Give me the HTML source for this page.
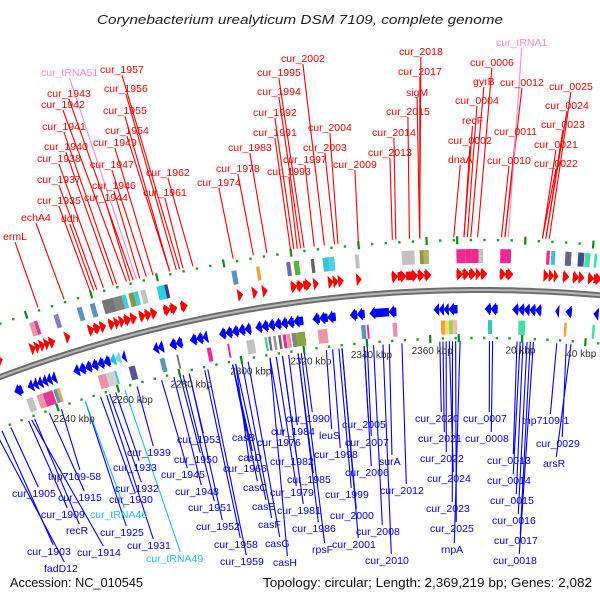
<!DOCTYPE html>
<html><head><meta charset="utf-8"><style>
html,body{margin:0;padding:0;background:#fff;}
svg{display:block;}
text{font-family:"Liberation Sans","DejaVu Sans",sans-serif;}
</style></head><body>
<svg id="map" width="600" height="600" viewBox="0 0 600 600" xmlns="http://www.w3.org/2000/svg">
<rect width="600" height="600" fill="#fff"/>
<text x="300" y="24" text-anchor="middle" font-style="italic" font-size="13" textLength="406" lengthAdjust="spacingAndGlyphs" fill="#222">Corynebacterium urealyticum DSM 7109, complete genome</text>
<text x="10" y="587" font-size="12.5" fill="#111" textLength="133" lengthAdjust="spacingAndGlyphs">Accession: NC_010545</text>
<text x="263" y="587" font-size="12.5" fill="#111" textLength="329" lengthAdjust="spacingAndGlyphs">Topology: circular; Length: 2,369,219 bp; Genes: 2,082</text>
<g id="layer"></g>
</svg>
<script>
// ---- data (genome coordinates in kbp) ----
var genomeLen = 2369;
var fwdGenes = [[2227,2229],[2238,2239.5],[2239.5,2241],[2241,2242.5],[2242.5,2244],[2244,2245.7],[2249,2250.5],[2256.3,2258],[2258,2260],[2260,2261.7],[2262.7,2264.5],[2264.5,2266],[2266,2267.5],[2267.5,2269.5],[2269.5,2271.3],[2272.2,2274],[2274,2275.8],[2275.8,2277.6],[2279.7,2281.7],[2281.7,2283.8],[2285,2287],[2302.5,2304],[2307,2308.5],[2310,2311.5],[2318.7,2320.5],[2320.5,2322.5],[2322.5,2324.8],[2325.5,2327],[2330,2331.5],[2331.5,2333],[2333,2334.6],[2338.5,2340],[2349.2,2351],[2351,2353.5],[2353.5,2357],[2357,2359],[2359,2361],[-0.3,1.5],[1.5,3.5],[3.5,5.5],[5.5,7],[7,8.8],[12.7,14.5],[14.5,16.7],[25.9,27.5],[27.5,29],[29,30.2],[31.7,33.5],[34.7,36.5],[36.5,38.1],[39.3,41],[41,43.3]];
var revGenes = [[2229,2231.5],[2233.4,2235],[2235,2236.5],[2236.5,2238],[2238,2239.5],[2239.5,2241],[2241,2242.5],[2248.3,2250],[2250,2252],[2252,2254],[2254,2256],[2256,2258],[2258,2260],[2260,2261.7],[2261.7,2263.4],[2263.8,2265],[2273.8,2275.3],[2275.3,2277],[2279,2281],[2281,2283],[2285.5,2287.5],[2287.5,2289.5],[2289.5,2291],[2294.7,2296.7],[2296.7,2298.7],[2298.7,2300.7],[2300.7,2302.7],[2302.7,2304.6],[2306.1,2308],[2308,2310],[2310,2312],[2312,2314],[2314,2316],[2316,2318],[2318,2320.9],[2323.9,2326],[2326,2328.5],[2328.5,2331],[2335.5,2337.7],[2337.7,2340],[2341.6,2347.5],[2347.5,2349.8],[2361.4,2363],[2363,2364.5],[2364.5,2366],[2366,2368.7],[8.2,10],[10,12.1],[16.7,18.5],[18.5,20.3],[20.3,22],[22,23.8],[23.8,25.6],[30,31.1],[33.2,35],[41.8,43.3]];
var revGeneColors = {13:"#22bbee",14:"#66ddee"};
var fwdBoxes = [[2240,2241.5,"#e88a9a"],[2241.5,2242.5,"#e0218a"],[2247.6,2249,"#7a6fc0"],[2254.8,2256.3,"#4a86b8"],[2258.8,2260.3,"#4a86b8"],[2262.5,2266,"#666666"],[2266,2268.6,"#777777"],[2268.6,2269.8,"#22ccdd"],[2270.6,2272.2,"#7a8a2a"],[2272.2,2273.5,"#22ccdd"],[2274.3,2275.8,"#bbbbbb"],[2279.2,2281.5,"#11ccdd"],[2281.5,2282.5,"#222288"],[2301.8,2303.3,"#4a86b8"],[2309.2,2310.2,"#ee9922"],[2318.2,2319.4,"#6655aa"],[2320.4,2322,"#44aa22"],[2325.5,2326.5,"#555555"],[2329,2330.8,"#22bbdd"],[2330.8,2332.5,"#33ccee"],[2338.6,2339.8,"#bbbbbb"],[2352.5,2356.3,"#bbbbbb"],[2357.8,2359,"#888833"],[2359,2360.5,"#aaaa44"],[-0.3,2.3,"#ee1188"],[2.3,4.3,"#ee1188"],[4.3,6.3,"#ee1188"],[6.3,7.6,"#bbbbbb"],[12.7,14.7,"#ee1188"],[14.7,15.9,"#ee1188"],[26.4,27.4,"#ee1188"],[27.8,29,"#22bbdd"],[32,33.8,"#555577"],[35.8,37.6,"#333388"],[37.8,39.4,"#33dd99"],[40.6,41.4,"#22ddbb"]];
var revBoxes = [[2231.6,2233.7,"#bbbbbb"],[2235,2237,"#e88a9a"],[2237,2240.2,"#e0218a"],[2240.5,2241.6,"#4a86b8"],[2241.6,2242.5,"#ee9922"],[2255,2257.6,"#e88a9a"],[2257.6,2260.4,"#cccccc"],[2260.4,2261,"#22bbee"],[2265,2267,"#444488"],[2275,2276.5,"#4a86b8"],[2280.3,2280.9,"#666666"],[2290,2291.3,"#ee1188"],[2296.5,2297.1,"#ee1188"],[2302.5,2305,"#bbbbbb"],[2308.3,2309,"#33cc66"],[2309.5,2310.2,"#555599"],[2311,2311.8,"#888888"],[2312.6,2313.4,"#555555"],[2314,2315,"#ee1188"],[2315.2,2316.4,"#e88a9a"],[2316.8,2318.2,"#777777"],[2318.2,2321,"#7a9a2a"],[2325,2328,"#e88a9a"],[2338.6,2340,"#4a86b8"],[2340.4,2341,"#ee1188"],[2348.4,2349.8,"#e88a9a"],[2363.5,2364.8,"#ee9922"],[2364.8,2366,"#eedd55"],[2366,2367.3,"#99cc44"],[2367.3,2368.6,"#f0b0b0"],[9.2,10.5,"#22bbbb"],[18.7,20.8,"#33dd99"],[33,33.8,"#ee9922"],[41.8,42.6,"#33dd99"]];
var tickValues = [2240,2260,2280,2300,2320,2340,2360,20,40];
var tickLabels = ["2240 kbp","2260 kbp","2280 kbp","2300 kbp","2320 kbp","2340 kbp","2360 kbp","20 kbp","40 kbp"];

var topNames = ["cur_tRNA51","cur_1957","cur_1956","cur_1943","cur_1942","cur_1955","cur_1941","cur_1954","cur_1949","cur_1940","cur_1938","cur_1947","cur_1962","cur_1937","cur_1946","cur_1961","cur_1935","cur_1944","echA4","ddh","ermL","cur_1974","cur_1978","cur_1983","cur_1995","cur_2002","cur_1994","cur_1992","cur_1991","cur_2004","cur_2003","cur_1997","cur_1993","cur_2009","cur_2018","cur_2017","sigM","cur_2015","cur_2014","cur_2013","cur_tRNA1","cur_0006","gyrB","cur_0012","cur_0025","cur_0004","cur_0024","recF","cur_0023","cur_0011","cur_0002","cur_0021","dnaA","cur_0010","cur_0022"];
var topPos = [2274,2287,2286,2273,2271,2284,2268,2284,2279,2267,2264,2277,2291,2262,2275,2288,2260,2272,2252,2261,2244,2303,2309,2313,2324,2330,2323,2321,2320,2334,2333,2327,2322,2340,2358,2358,2358,2355,2351,2350,15,6,4,14,27,3,26,2,26,14,2,25,2368,13,25];
var botNames = ["cur_1905","cur_1903","fadD12","cur_1909","recR","tnp7109-58","cur_1915","cur_tRNA46","cur_1914","cur_1932","cur_1930","cur_1925","cur_1931","cur_tRNA49","cur_1933","cur_1939","cur_1953","cur_1950","cur_1945","cur_1948","cur_1951","cur_1952","cur_1958","cur_1959","casB","casD","cur_1966","casC","casE","casF","casG","casH","cur_1976","cur_1990","cur_1984","cur_1982","cur_1985","cur_1979","cur_1981","cur_1986","rpsF","leuS","cur_2005","cur_1998","cur_2007","cur_2006","cur_1999","cur_2000","cur_2001","cur_2008","cur_2010","surA","cur_2012","cur_2020","cur_2021","cur_2022","cur_2024","cur_2023","cur_2025","rnpA","cur_0007","cur_0008","cur_0013","cur_0014","cur_0015","cur_0016","cur_0017","cur_0018","tnp7109-1","cur_0029","arsR"];
var botPos = [2224,2221,2219,2230,2232,2241,2237,2249,2231,2257,2254,2249,2256,2262,2259,2266,2283,2280,2274,2278,2281,2283,2288,2289,2297,2297,2298,2297,2298,2300,2302,2309,2309,2320,2315,2313,2318,2311,2313,2318,2319,2327,2339,2329,2340,2339,2331,2332,2332,2342,2345,2347,2351,2363,2364,2365,2366,2367,2368,0.4,9.7,10.7,18.4,19.4,20.3,21.6,22.6,23.6,31,34,35.5];

// ---- layout (label placement, pixels) ----
var topLX = [41,100,104,47,41,103,42,105,93,44,37,90,146,37,92,143,37,84,21,61,3,197,216,228,257,281,257,253,253,308,303,283,267,333,399,398,406,386,372,368,496,470,473,500,549,455,545,462,541,494,448,534,448,487,534];
var topLY = [72,69,88,93,104,110,126,130,142,146,158,164,172,179,185,192,200,197,217,218,236,182,168,147,72,58,91,112,132,127,147,159,171,164,51,71,92,111,132,152,42,62,81,82,86,100,105,120,124,131,140,144,159,160,163];
var botLX = [12,27,44,41,66,48,58,90,77,115,109,100,127,146,113,127,177,174,161,175,188,196,214,220,232,238,223,243,252,258,265,273,257,286,271,270,287,270,277,292,312,319,342,314,345,345,325,330,332,356,365,379,380,415,418,420,427,426,430,441,463,465,487,487,490,492,494,493,522,536,543];
var botLY = [493,551,568,514,530,476,497,514,552,488,499,532,545,558,467,452,439,459,474,491,507,526,544,561,437,457,468,487,506,524,543,562,442,418,431,461,479,492,510,528,549,435,424,454,442,472,494,515,544,531,560,461,490,418,438,458,478,508,528,549,418,438,460,480,500,520,540,560,420,443,463];

var CX = 480, CY = 1657, R = 1367;
var NS = "http://www.w3.org/2000/svg";
var layer = document.getElementById('layer');
function norm(k){ return k > genomeLen/2 ? k - genomeLen : k; }
function theta(k){ return -0.0161 + 0.002403 * norm(k); }
function P(k, r){ var t = theta(k); return [CX + r*Math.sin(t), CY - r*Math.cos(t)]; }
function mk(tag, attrs){ var e = document.createElementNS(NS, tag); for (var a in attrs) e.setAttribute(a, attrs[a]); return e; }
function pts(arr){ return arr.map(function(p){return p[0].toFixed(1)+","+p[1].toFixed(1);}).join(" "); }

// backbone
(function(){
  var a = [];
  for (var k = -200; k <= 80; k += 2) { a.push(P(k, R)); }
  var bb = mk('polyline', {points: pts(a), fill: 'none', stroke: '#6e6e6e', 'stroke-width': 6});
  
  
  layer.appendChild(bb);
  var hl = mk('polyline', {points: pts(a), fill: 'none', stroke: '#b8b8b8', 'stroke-width': 2});
  
  
  layer.appendChild(hl);
})();

// tick rings
(function(){
  var gs = [];
  for (var g = 2196; g < genomeLen; g += 4) gs.push(g);
  for (var g2 = 0; g2 <= 72; g2 += 4) gs.push(g2);
  [R + 50, R - 48].forEach(function(rr, ri){
    gs.forEach(function(g){
      var major = (g % 20 === 0);
      var e;
      if (major) {
        var p1 = P(g, rr - 4), p2 = P(g, rr + 4);
        e = mk('line', {x1: p1[0], y1: p1[1], x2: p2[0], y2: p2[1], stroke: '#118811', 'stroke-width': 2.2});
      } else {
        var p = P(g, rr);
        e = mk('rect', {x: p[0]-1.2, y: p[1]-1.2, width: 2.4, height: 2.4, fill: '#229922'});
      }
      
      
      layer.appendChild(e);
    });
  });
  tickValues.forEach(function(v, i){
    var p = P(v, R - 60);
    var dx = -40 * Math.sin(theta(v));
    var t = mk('text', {x: p[0] + dx, y: p[1] + 3, 'text-anchor': 'middle', 'font-size': 10, fill: '#333'});
    t.textContent = tickLabels[i];
    
    
    layer.appendChild(t);
  });
})();

// genes
function arrow(s, e, rc, dir, color, name){
  var hh = 6, bh = 4;
  var len = e - s, hl = Math.min(len, 1.6);
  var poly;
  if (dir > 0) {
    poly = [P(s, rc+bh), P(e-hl, rc+bh), P(e-hl, rc+hh), P(e, rc), P(e-hl, rc-hh), P(e-hl, rc-bh), P(s, rc-bh)];
    if (len <= 1.6) poly = [P(s, rc+hh), P(e, rc), P(s, rc-hh)];
  } else {
    poly = [P(e, rc+bh), P(s+hl, rc+bh), P(s+hl, rc+hh), P(s, rc), P(s+hl, rc-hh), P(s+hl, rc-bh), P(e, rc-bh)];
    if (len <= 1.6) poly = [P(e, rc+hh), P(s, rc), P(e, rc-hh)];
  }
  var el = mk('polygon', {points: pts(poly), fill: color, stroke: color, 'stroke-width': 0.5});
  
  
  layer.appendChild(el);
}
fwdGenes.forEach(function(g){ arrow(g[0], g[0] + (norm(g[1]) - norm(g[0])), R + 16, 1, '#ff0000', 'forward-gene'); });
revGenes.forEach(function(g, i){ arrow(g[0], g[0] + (norm(g[1]) - norm(g[0])), R - 19, -1, revGeneColors[i] || '#0000ff', 'reverse-gene'); });
function box(b, rc, name){
  var s = b[0], e = b[0] + (norm(b[1]) - norm(b[0]));
  var poly = [P(s, rc+7), P(e, rc+7), P(e, rc-7), P(s, rc-7)];
  var el = mk('polygon', {points: pts(poly), fill: b[2], 'fill-opacity': 0.9});
  
  
  layer.appendChild(el);
}
fwdBoxes.forEach(function(b){ box(b, R + 34, 'forward-cog-box'); });
revBoxes.forEach(function(b){ box(b, R - 37, 'reverse-cog-box'); });

// labels
function label(name, pos, lx, ly, top){
  var isT = name.indexOf('tRNA') >= 0;
  var col = top ? (isT ? '#ff88cc' : '#ff0000') : (isT ? '#22bbee' : '#0000ff');
  var t = mk('text', {x: lx, y: ly + 4, 'font-size': 10.5, fill: col});
  t.textContent = name;
  
  
  layer.appendChild(t);
  var w = t.getComputedTextLength ? t.getComputedTextLength() : name.length * 5.5;
  var end, start;
  if (top) { end = P(pos, R + 53); start = [lx + w*0.5, ly + 6]; }
  else { end = P(pos, R - 51); start = [lx + w*0.6, ly - 6]; }
  var l = mk('line', {x1: start[0], y1: start[1], x2: end[0], y2: end[1], stroke: col, 'stroke-width': 1.1});
  
  
  layer.insertBefore(l, layer.firstChild);
}
topNames.forEach(function(n, i){ label(n, topPos[i], topLX[i], topLY[i], true); });
botNames.forEach(function(n, i){ label(n, botPos[i], botLX[i], botLY[i], false); });
</script>
</body></html>
